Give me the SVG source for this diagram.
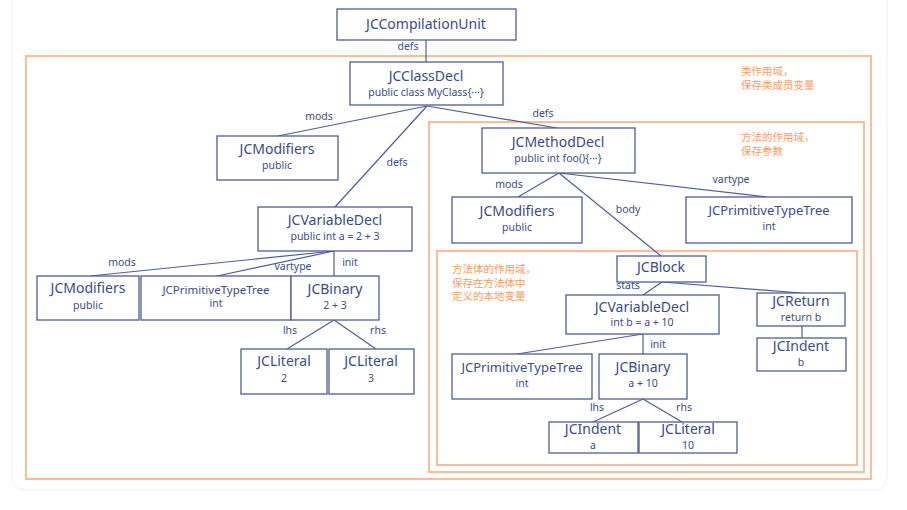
<svg xmlns="http://www.w3.org/2000/svg" width="907" height="510" viewBox="0 0 907 510">
<style>
.n rect{fill:#fff;stroke:#4f5c9c;stroke-width:1.3}
.t{font-family:"Noto Sans","Liberation Sans",sans-serif;font-size:14px;fill:#3c4a8e;text-anchor:middle}
.s{font-family:"Noto Sans","Liberation Sans",sans-serif;font-size:10.5px;fill:#3c4a8e;text-anchor:middle}
.l{font-family:"Noto Sans","Liberation Sans",sans-serif;font-size:10.5px;fill:#3c4a8e;text-anchor:middle}
.e line{stroke:#4f5c9c;stroke-width:1.2}
.sc{fill:none;stroke:#ffbc96;stroke-width:2}
.o{font-family:"Noto Sans CJK SC","Noto Sans",sans-serif;font-size:10.5px;fill:#ff9a5c}
</style>
<rect x="0" y="0" width="907" height="510" fill="#fff"/>
<rect x="12" y="-10" width="875" height="500" rx="12" fill="#fff" stroke="#efefef" stroke-width="1"/>
<g id="scopes">
<rect class="sc" x="26" y="56" width="845" height="423"/>
<rect class="sc" x="429" y="122" width="435" height="350"/>
<rect class="sc" x="437" y="251" width="420" height="214"/>
<text class="o" x="741" y="75">类作用域，</text>
<text class="o" x="741" y="88.5">保存类成员变量</text>
<text class="o" x="741" y="141">方法的作用域，</text>
<text class="o" x="741" y="154.5">保存参数</text>
<text class="o" x="452" y="273">方法体的作用域，</text>
<text class="o" x="452" y="286.5">保存在方法体中</text>
<text class="o" x="452" y="300">定义的本地变量</text>
</g>
<g id="connectors" class="e">
<line x1="426" y1="40" x2="426" y2="62"/>
<line x1="427" y1="106" x2="278" y2="136"/>
<line x1="427" y1="106" x2="335" y2="207"/>
<line x1="427" y1="106" x2="557" y2="128"/>
<line x1="334" y1="251" x2="90" y2="276"/>
<line x1="334" y1="251" x2="217" y2="276"/>
<line x1="334" y1="251" x2="334" y2="276"/>
<line x1="334" y1="320" x2="287" y2="349"/>
<line x1="334" y1="320" x2="376" y2="349"/>
<line x1="559" y1="173" x2="518" y2="197"/>
<line x1="559" y1="173" x2="661" y2="256"/>
<line x1="559" y1="173" x2="767" y2="197"/>
<line x1="662" y1="282" x2="643" y2="295"/>
<line x1="662" y1="282" x2="801" y2="293"/>
<line x1="643" y1="334" x2="517" y2="354"/>
<line x1="643" y1="334" x2="643" y2="354"/>
<line x1="643" y1="399" x2="593" y2="422"/>
<line x1="643" y1="399" x2="682" y2="422"/>
<line x1="802" y1="326" x2="802" y2="338"/>
<text class="l" x="408" y="50">defs</text>
<text class="l" x="319" y="120">mods</text>
<text class="l" x="397" y="166">defs</text>
<text class="l" x="543" y="117">defs</text>
<text class="l" x="122" y="266">mods</text>
<text class="l" x="293" y="270">vartype</text>
<text class="l" x="350" y="266">init</text>
<text class="l" x="290" y="334">lhs</text>
<text class="l" x="378" y="334">rhs</text>
<text class="l" x="509" y="188">mods</text>
<text class="l" x="628" y="213">body</text>
<text class="l" x="731" y="183">vartype</text>
<text class="l" x="628" y="289">stats</text>
<text class="l" x="658" y="348">init</text>
<text class="l" x="597" y="411">lhs</text>
<text class="l" x="684" y="411">rhs</text>
</g>
<g id="JCCompilationUnit" class="n"><rect x="337" y="9" width="179" height="31"/><text class="t" x="426" y="29">JCCompilationUnit</text></g>
<g id="JCClassDecl" class="n"><rect x="350" y="62" width="153" height="43"/><text class="t" x="426" y="81">JCClassDecl</text><text class="s" x="426" y="96">public class MyClass{···}</text></g>
<g id="JCModifiers1" class="n"><rect x="217" y="136" width="121" height="44"/><text class="t" x="277" y="154">JCModifiers</text><text class="s" x="277" y="169">public</text></g>
<g id="JCVariableDecl1" class="n"><rect x="258" y="207" width="154" height="44"/><text class="t" x="335" y="225">JCVariableDecl</text><text class="s" x="335" y="240">public int a = 2 + 3</text></g>
<g id="JCModifiers2" class="n"><rect x="37" y="276" width="102" height="44"/><text class="t" x="88" y="293">JCModifiers</text><text class="s" x="88" y="309">public</text></g>
<g id="JCPrimitiveTypeTree1" class="n"><rect x="141" y="276" width="150" height="44"/><text class="t" x="216" y="294" style="font-size:11.5px">JCPrimitiveTypeTree</text><text class="s" x="216" y="307">int</text></g>
<g id="JCBinary1" class="n"><rect x="291" y="276" width="88" height="44"/><text class="t" x="335" y="294">JCBinary</text><text class="s" x="335" y="309">2 + 3</text></g>
<g id="JCLiteral2" class="n"><rect x="241" y="349" width="86" height="45"/><text class="t" x="284" y="366">JCLiteral</text><text class="s" x="284" y="382">2</text></g>
<g id="JCLiteral3" class="n"><rect x="329" y="349" width="85" height="45"/><text class="t" x="371" y="366">JCLiteral</text><text class="s" x="371" y="382">3</text></g>
<g id="JCMethodDecl" class="n"><rect x="482" y="128" width="153" height="45"/><text class="t" x="558" y="147">JCMethodDecl</text><text class="s" x="558" y="162">public int foo(){···}</text></g>
<g id="JCModifiers3" class="n"><rect x="452" y="197" width="130" height="46"/><text class="t" x="517" y="216">JCModifiers</text><text class="s" x="517" y="231">public</text></g>
<g id="JCPrimitiveTypeTree2" class="n"><rect x="686" y="197" width="166" height="46"/><text class="t" x="769" y="215" style="font-size:13px">JCPrimitiveTypeTree</text><text class="s" x="769" y="230">int</text></g>
<g id="JCBlock" class="n"><rect x="617" y="256" width="89" height="26"/><text class="t" x="661" y="272">JCBlock</text></g>
<g id="JCVariableDecl2" class="n"><rect x="566" y="295" width="153" height="39"/><text class="t" x="642" y="312">JCVariableDecl</text><text class="s" x="642" y="326">int b = a + 10</text></g>
<g id="JCReturn" class="n"><rect x="757" y="293" width="88" height="33"/><text class="t" x="801" y="306">JCReturn</text><text class="s" x="801" y="321">return b</text></g>
<g id="JCIndentB" class="n"><rect x="757" y="338" width="89" height="33"/><text class="t" x="801" y="351">JCIndent</text><text class="s" x="801" y="366">b</text></g>
<g id="JCPrimitiveTypeTree3" class="n"><rect x="452" y="354" width="140" height="45"/><text class="t" x="522" y="372" style="font-size:13px">JCPrimitiveTypeTree</text><text class="s" x="522" y="387">int</text></g>
<g id="JCBinary2" class="n"><rect x="599" y="354" width="88" height="45"/><text class="t" x="643" y="372">JCBinary</text><text class="s" x="643" y="387">a + 10</text></g>
<g id="JCIndentA" class="n"><rect x="549" y="422" width="89" height="31"/><text class="t" x="593" y="434">JCIndent</text><text class="s" x="593" y="449">a</text></g>
<g id="JCLiteral10" class="n"><rect x="639" y="422" width="98" height="31"/><text class="t" x="688" y="434">JCLiteral</text><text class="s" x="688" y="449">10</text></g>
</svg>
